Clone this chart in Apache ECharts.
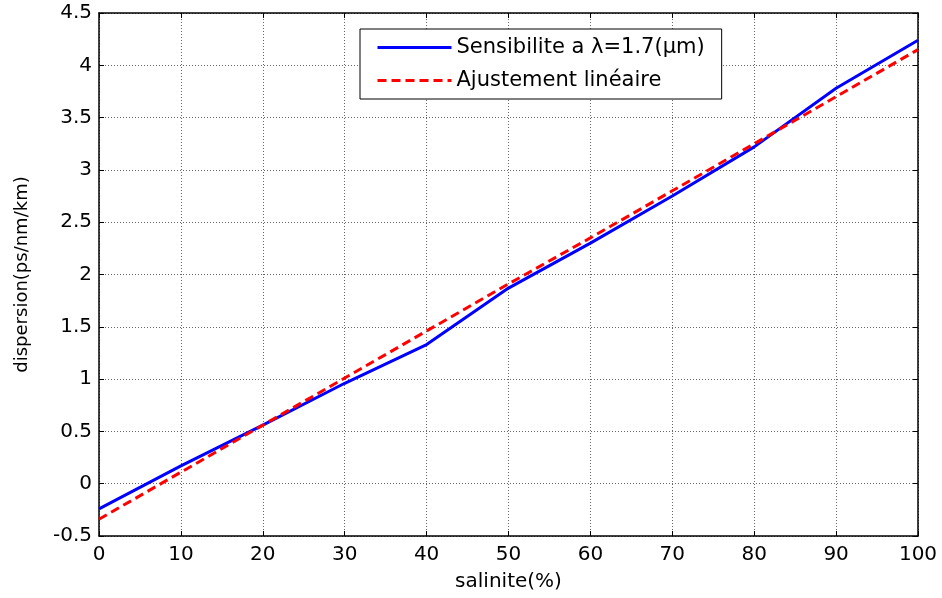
<!DOCTYPE html>
<html>
<head>
<meta charset="utf-8">
<script src="https://cdn.jsdelivr.net/npm/echarts@6/dist/echarts.min.js"></script>
<style>html,body{margin:0;padding:0;background:#fff}#c{width:942px;height:598px}</style>
</head>
<body>
<div id="c"></div>
<script>
var salinite = [0, 10, 20, 30, 40, 50, 60, 70, 80, 90, 100];
var sensibilite = [-0.24, 0.17, 0.56, 0.96, 1.33, 1.87, 2.30, 2.75, 3.22, 3.78, 4.24];
var ajustement = [-0.34, 0.11, 0.56, 1.01, 1.46, 1.91, 2.35, 2.80, 3.25, 3.70, 4.15];
var seriesNames = ['Sensibilite a \u03bb=1.7(\u03bcm)', 'Ajustement lin\u00e9aire'];

function pairs(xs, ys) { return xs.map(function (x, i) { return [x, ys[i]]; }); }

var font = 'DejaVu Sans, sans-serif';
var chart = echarts.init(document.getElementById('c'), null, { renderer: 'canvas' });
var gridLine = { show: true, lineStyle: { color: '#666', type: [1, 2], width: 1 } };
var line = { show: true, onZero: false, lineStyle: { color: '#000', width: 1.5 } };
var tick = { show: true, inside: true, length: 5, lineStyle: { color: '#000' } };
var lbl = { color: '#000', fontSize: 20, fontFamily: font };

chart.setOption({
  animation: false,
  backgroundColor: '#fff',
  grid: { left: 99, right: 24, top: 13, bottom: 62, containLabel: false },
  legend: {
    orient: 'vertical',
    left: 360, top: 29,
    backgroundColor: '#fff',
    borderColor: '#000', borderWidth: 1,
    padding: [8, 17, 8, 16],
    itemWidth: 74, itemHeight: 14, itemGap: 12,
    itemStyle: { opacity: 0 },
    lineStyle: { width: 3 },
    textStyle: { fontSize: 21, color: '#000', fontFamily: font, lineHeight: 20 },
    data: seriesNames
  },
  xAxis: [{
    type: 'value', min: 0, max: 100, interval: 10, position: 'bottom',
    name: 'salinite(%)', nameLocation: 'middle', nameGap: 36,
    nameTextStyle: { fontSize: 20, color: '#000', fontFamily: font },
    axisLine: line, axisTick: tick, splitLine: gridLine,
    axisLabel: Object.assign({ margin: 9 }, lbl)
  }, {
    type: 'value', min: 0, max: 100, interval: 10, position: 'top',
    axisLine: line, axisTick: tick, splitLine: { show: false }, axisLabel: { show: false }
  }],
  yAxis: [{
    type: 'value', min: -0.5, max: 4.5, interval: 0.5, position: 'left',
    name: 'dispersion(ps/nm/km)', nameLocation: 'middle', nameGap: 68,
    nameTextStyle: { fontSize: 18, color: '#000', fontFamily: font },
    axisLine: line, axisTick: tick, splitLine: gridLine,
    axisLabel: Object.assign({ margin: 7, formatter: function (v) { return String(+v.toFixed(1)); } }, lbl)
  }, {
    type: 'value', min: -0.5, max: 4.5, interval: 0.5, position: 'right',
    axisLine: line, axisTick: tick, splitLine: { show: false }, axisLabel: { show: false }
  }],
  series: [{
    name: seriesNames[0], type: 'line', data: pairs(salinite, sensibilite),
    showSymbol: false, symbol: 'none',
    lineStyle: { color: '#0000ff', width: 3 }, itemStyle: { color: '#0000ff' }
  }, {
    name: seriesNames[1], type: 'line', data: pairs(salinite, ajustement),
    showSymbol: false, symbol: 'none',
    lineStyle: { color: '#ff0000', width: 3, type: [9, 5] }, itemStyle: { color: '#ff0000' }
  }]
});
</script>
</body>
</html>
